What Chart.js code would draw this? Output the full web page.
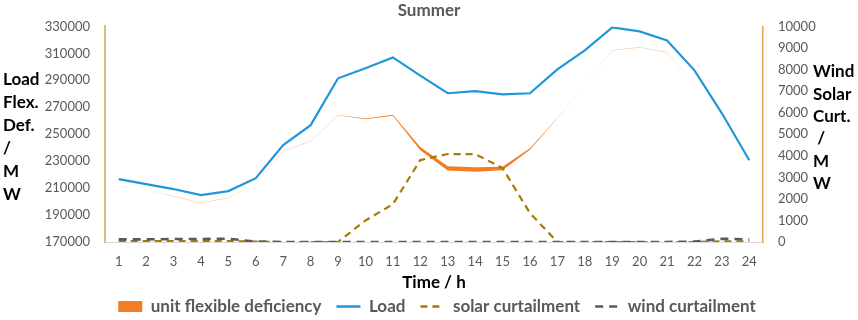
<!DOCTYPE html>
<html>
<head>
<meta charset="utf-8">
<script src="https://cdn.jsdelivr.net/npm/chart.js@4.4.1/dist/chart.umd.min.js"></script>
<style>
  html, body { margin: 0; padding: 0; background: #fff; }
  #wrap { width: 858px; height: 320px; }
</style>
</head>
<body>
<div id="wrap"><canvas id="summerChart" width="858" height="320"></canvas></div>
<script>
// hours of the day (x categories / tick labels)
const hours = ["1","2","3","4","5","6","7","8","9","10","11","12","13","14","15","16","17","18","19","20","21","22","23","24"];

// system load, MW (left axis)
const loadMW = [216700, 213000, 209300, 204800, 207800, 217400, 241900, 256700, 291500, 299000, 307000, 293500,
                280400, 281900, 279600, 280400, 298100, 312200, 329300, 326300, 319600, 297400, 265500, 230700];

// unit flexible deficiency band: lower / upper edge, MW (left axis)
const flexLower = [211500, 208500, 204000, 198900, 202600, 213700, 237400, 244800, 264000, 261100, 263700, 238000,
                   223000, 222200, 223300, 238500, 261900, 286300, 312200, 314400, 310700, 287000, 254000, 221900];
const flexUpper = [211650, 208650, 204150, 199050, 202750, 213850, 237550, 244950, 264300, 261700, 264500, 240500,
                   226300, 225500, 225800, 239500, 262000, 286380, 312280, 314480, 310780, 287080, 254080, 221980];

// curtailment, MW (right axis)
const solarCurt = [40, 40, 40, 40, 40, 20, 0, 0, 0, 1000, 1750, 3800, 4080, 4080, 3430, 1340, 0, 0, 0, 0, 0, 0, 30, 30];
const windCurt  = [120, 120, 140, 140, 150, 20, 0, 0, 0, 0, 0, 0, 0, 0, 0, 0, 0, 0, 0, 0, 0, 20, 150, 120];

// axis tick settings
const leftTicks = { min: 170000, max: 330000, step: 20000 };
const rightTicks = { min: 0, max: 10000, step: 1000 };

const leftTitle = ["Load", "Flex.", "Def.", "/", "M", "W"];
const rightTitle = ["Wind", "Solar", "Curt.", " /", "M", "W"];

const FONT = "Lato, 'Open Sans', sans-serif";
const GREY = "#595959";

// horizontal, stacked-word axis titles like the original
const sideTitles = {
  id: "sideTitles",
  afterLayout(chart) {
    // nudge the legend a little right, as in the original
    chart.legend.left += 8;
    chart.legend.right += 8;
  },
  afterDraw(chart) {
    const ctx = chart.ctx;
    ctx.save();
    ctx.font = "bold 17px " + FONT;
    ctx.fillStyle = "#000";
    ctx.textAlign = "left";
    ctx.textBaseline = "middle";
    leftTitle.forEach((t, i) => ctx.fillText(t, 3, 80 + i * 23));
    rightTitle.forEach((t, i) => ctx.fillText(t, 813, 72 + i * 22.3));
    ctx.restore();
  }
};

const plain = v => String(v);

const ctx = document.getElementById("summerChart").getContext("2d");

new Chart(ctx, {
  type: "line",
  data: {
    labels: hours,
    datasets: [
      {
        label: "",
        data: flexLower,
        borderWidth: 0,
        borderColor: "rgba(0,0,0,0)",
        pointRadius: 0,
        fill: false,
        yAxisID: "y",
        order: 4
      },
      {
        label: "unit flexible deficiency",
        data: flexUpper,
        borderWidth: 0,
        borderColor: "rgba(0,0,0,0)",
        backgroundColor: "#f47c22",
        pointRadius: 0,
        fill: "-1",
        yAxisID: "y",
        order: 3,
        legendStyle: "rect"
      },
      {
        label: "Load",
        data: loadMW,
        borderColor: "#2196d8",
        backgroundColor: "#2196d8",
        borderWidth: 2.2,
        pointRadius: 0,
        fill: false,
        yAxisID: "y",
        order: 2,
        legendStyle: "line"
      },
      {
        label: "solar curtailment",
        data: solarCurt,
        borderColor: "#a87c00",
        backgroundColor: "#a87c00",
        borderWidth: 2.2,
        borderDash: [7, 5],
        pointRadius: 0,
        fill: false,
        yAxisID: "y2",
        order: 1,
        legendStyle: "line"
      },
      {
        label: "wind curtailment",
        data: windCurt,
        borderColor: "#5a5a5a",
        backgroundColor: "#5a5a5a",
        borderWidth: 2.6,
        borderDash: [8, 6],
        pointRadius: 0,
        fill: false,
        yAxisID: "y2",
        order: 0,
        legendStyle: "line"
      }
    ]
  },
  options: {
    responsive: false,
    animation: false,
    devicePixelRatio: 1,
    layout: { padding: 0 },
    elements: { line: { tension: 0 } },
    plugins: {
      title: {
        display: true,
        text: "Summer",
        color: GREY,
        font: { family: FONT, size: 17, weight: "bold" },
        padding: { top: 0, bottom: 6 }
      },
      legend: {
        position: "bottom",
        maxHeight: 37,
        labels: {
          usePointStyle: true,
          pointStyleWidth: 24,
          boxHeight: 11,
          padding: 15,
          color: GREY,
          font: { family: FONT, size: 17, weight: "bold" },
          generateLabels(chart) {
            return chart.data.datasets
              .map((ds, i) => ({
                text: ds.label,
                fillStyle: ds.backgroundColor,
                strokeStyle: ds.borderColor,
                lineWidth: ds.legendStyle === "rect" ? 0 : 2.5,
                lineDash: ds.borderDash || [],
                pointStyle: ds.legendStyle,
                fontColor: GREY,
                hidden: false,
                datasetIndex: i
              }))
              .filter(item => item.text);
          }
        }
      },
      tooltip: { enabled: false }
    },
    scales: {
      x: {
        offset: true,
        grid: { display: false, drawTicks: false },
        border: { color: "#d9d9d9", width: 1 },
        ticks: { color: GREY, padding: 12, font: { family: FONT, size: 13 }, maxRotation: 0, autoSkip: false },
        title: {
          display: true,
          text: "Time / h",
          color: "#000",
          font: { family: FONT, size: 17, weight: "bold" },
          padding: { top: 0, bottom: -10 }
        },
        afterFit(scale) { scale.height = 41; }
      },
      y: {
        position: "left",
        min: leftTicks.min,
        max: leftTicks.max,
        grid: { display: false, drawTicks: false },
        border: { color: "#d8bd85", width: 2 },
        ticks: { stepSize: leftTicks.step, color: GREY, padding: 15, font: { family: FONT, size: 13 }, callback: plain },
        afterFit(scale) { scale.width = 105; }
      },
      y2: {
        position: "right",
        min: rightTicks.min,
        max: rightTicks.max,
        grid: { display: false, drawTicks: false },
        border: { color: "#e3a24d", width: 1.5 },
        ticks: { stepSize: rightTicks.step, color: GREY, padding: 15, font: { family: FONT, size: 13 }, callback: plain },
        afterFit(scale) { scale.width = 95; }
      }
    }
  },
  plugins: [sideTitles]
});
</script>
</body>
</html>
